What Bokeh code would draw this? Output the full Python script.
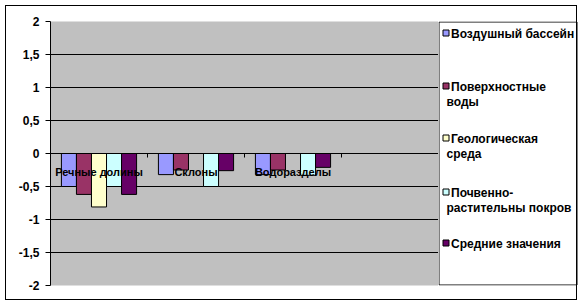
from bokeh.plotting import figure
from bokeh.models import (FixedTicker, LinearAxis, Range1d, ColumnDataSource, Grid, Row)
from bokeh.core.properties import value
from bokeh.transform import dodge
from bokeh.embed import file_html
from bokeh.resources import INLINE

categories = ["Речные долины", "Склоны", "Водоразделы", ""]
series_names = ["Воздушный бассейн", "Поверхностные воды", "Геологическая среда",
                "Почвенно-растительны покров", "Средние значения"]
air = [-0.5, -0.32, -0.32]
surface_water = [-0.62, -0.25, -0.25]
geology = [-0.81, 0.0, 0.0]
soil = [-0.5, -0.5, -0.33]
mean_vals = [-0.62, -0.26, -0.21]
series_values = [air, surface_water, geology, soil, mean_vals]
colors = ["#9999FF", "#993366", "#FFFFCC", "#CCFFFF", "#660066"]
legend_lines = [["Воздушный бассейн"], ["Поверхностные", "воды"],
                ["Геологическая", "среда"], ["Почвенно-", "растительны покров"],
                ["Средние значения"]]
y_ticks = [-2.0, -1.5, -1.0, -0.5, 0.0, 0.5, 1.0, 1.5, 2.0]
y_tick_labels = ["-2", "-1,5", "-1", "-0,5", "0", "0,5", "1", "1,5", "2"]

FONT = "Liberation Sans"
W, H = 583, 305
FL, FT, FR, FB = 50, 21, 438, 285   # plot-area edges in page pixels
BL, BT, BR, BB = 5, 5, 576, 299      # outer chart border in page pixels


def css_lines(segs):
    """CSS background drawing 1px lines: segs = [(x, y, w, h), ...]"""
    return {
        "background-image": ", ".join(["linear-gradient(#000, #000)"] * len(segs)),
        "background-size": ", ".join("%dpx %dpx" % (w, h) for x, y, w, h in segs),
        "background-position": ", ".join("%dpx %dpx" % (x, y) for x, y, w, h in segs),
        "background-repeat": "no-repeat",
    }


# ---------------- main chart ----------------
p = figure(width=FR, height=H, output_backend="svg", toolbar_location=None,
           x_range=Range1d(0, len(categories)), y_range=Range1d(-2, 2),
           x_axis_type=None, y_axis_type=None,
           min_border_left=FL, min_border_right=0, min_border_top=FT, min_border_bottom=H - FB)
p.background_fill_color = "#C0C0C0"
p.border_fill_color = None
p.outline_line_color = None

yaxis = LinearAxis(ticker=FixedTicker(ticks=y_ticks),
                   major_label_overrides=dict(zip(y_ticks, y_tick_labels)))
yaxis.axis_line_color = "black"
yaxis.major_tick_line_color = "black"
yaxis.major_tick_out = 5
yaxis.major_tick_in = 0
yaxis.minor_tick_line_color = None
yaxis.major_label_standoff = 6
yaxis.major_label_text_font = FONT
yaxis.major_label_text_font_style = "bold"
yaxis.major_label_text_font_size = "12px"
yaxis.major_label_text_color = "black"
p.add_layout(yaxis, "left")

grid = Grid(dimension=1, ticker=FixedTicker(ticks=[t for t in y_ticks if abs(t) < 2]),
            grid_line_color="black", grid_line_width=1)
p.add_layout(grid)

n = len(series_values)
bw = 0.155
xs = [i + 0.5 for i in range(len(series_values[0]))]
for k, (vals, col, name) in enumerate(zip(series_values, colors, series_names)):
    src = ColumnDataSource(dict(x=xs, top=vals))
    p.vbar(x=dodge("x", (k - (n - 1) / 2) * bw, range=p.x_range), top="top", bottom=0,
           width=bw, source=src, fill_color=col, line_color="black", line_width=1)

cat_pos = [i + 0.5 for i in range(len(categories))]
xaxis = LinearAxis(fixed_location=0,
                   ticker=FixedTicker(ticks=cat_pos, minor_ticks=[i + 1 for i in range(len(categories))]),
                   major_label_overrides=dict(zip(cat_pos, categories)))
xaxis.axis_line_color = "black"
xaxis.major_tick_line_color = None
xaxis.major_tick_out = 0
xaxis.major_tick_in = 0
xaxis.minor_tick_line_color = "black"
xaxis.minor_tick_out = 4
xaxis.minor_tick_in = 0
xaxis.major_label_standoff = 8
xaxis.major_label_text_font = FONT
xaxis.major_label_text_font_style = "bold"
xaxis.major_label_text_font_size = "11px"
xaxis.major_label_text_color = "black"
p.add_layout(xaxis, "below")

# ---------------- legend panel (page-pixel coordinates, y downward) ----------------
LW = W - FR
leg = figure(width=LW, height=H, output_backend="svg", toolbar_location=None,
             x_range=Range1d(0, LW), y_range=Range1d(FB, FT),
             x_axis_type=None, y_axis_type=None,
             min_border_left=0, min_border_right=0, min_border_top=FT, min_border_bottom=H - FB,
             styles=css_lines([(0, BT, BR - FR + 1, 1), (0, BB, BR - FR + 1, 1),
                               (BR - FR, BT, 1, BB - BT + 1)]))
leg.background_fill_color = None
leg.border_fill_color = None
leg.outline_line_color = None

# legend box
leg.quad(left=[0.5], right=[BR - FR + 0.5], top=[FT + 0.5], bottom=[FB - 0.5],
         fill_color="white", line_color="black", line_width=1)

item_y = [33, 86, 138, 192, 243]
sq_l, sq_r, tx0, tx1 = 4.5, 10.5, 12.5, 8.0
leg.quad(left=[sq_l] * len(colors), right=[sq_r] * len(colors),
         top=[yy - 3.5 for yy in item_y], bottom=[yy + 2.5 for yy in item_y],
         fill_color=colors, line_color="black", line_width=1)
tx, ty, tt = [], [], []
for lines, yy in zip(legend_lines, item_y):
    for j, line in enumerate(lines):
        tx.append(tx0 if j == 0 else tx1)
        ty.append(yy + 15 * j)
        tt.append(line)
leg.text(x=tx, y=ty, text=tt, text_font=value(FONT), text_font_style="bold",
         text_font_size="12px", text_baseline="middle", text_align="left", text_color="black")

# outer chart border drawn by a CSS pseudo-element over the whole layout
border_css = (":host::after { content: ''; position: absolute; left: %dpx; top: %dpx; "
              "width: %dpx; height: %dpx; box-sizing: border-box; border: 1px solid #000; "
              "pointer-events: none; z-index: 100; }"
              % (BL, BT, BR - BL + 1, BB - BT + 1))
layout = Row(children=[p, leg], spacing=0, stylesheets=[border_css])

open("out.html", "w").write(file_html(layout, INLINE))
